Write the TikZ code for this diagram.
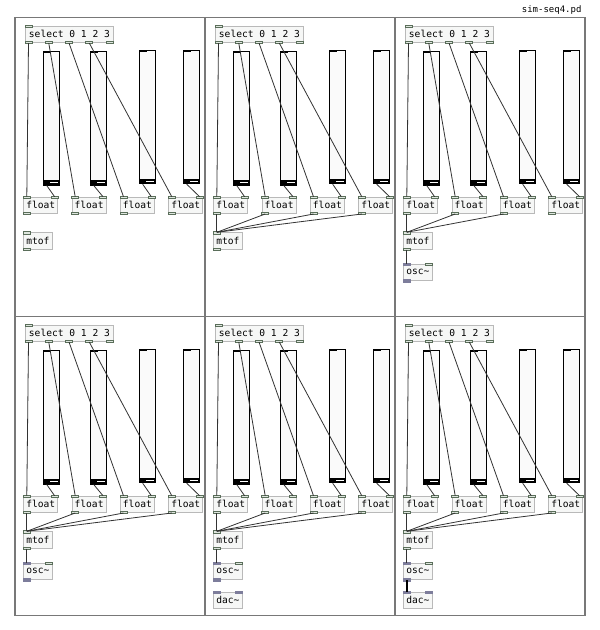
\documentclass[tikz,border=0pt]{standalone}
\usepackage{fontspec}
\setmonofont{DejaVu Sans Mono}
\definecolor{pdborder}{RGB}{185,185,185}
\definecolor{pdfill}{RGB}{246,247,246}
\definecolor{pdlet}{RGB}{90,110,90}
\definecolor{pdletfill}{RGB}{222,230,222}
\definecolor{pdsig}{RGB}{125,125,155}
\definecolor{framegray}{RGB}{120,120,120}
\definecolor{sliderfill}{RGB}{250,250,250}
\newcommand\pdfont{\ttfamily\fontsize{9.6}{10}\selectfont}
% inlets and outlets of a box
\newcommand\pdin[2][ctllet]{\draw[#1] (#2) ++(0,-0.7) rectangle ++(7,2.5);}
\newcommand\pdout[2][ctllet]{\draw[#1] (#2) ++(0,-1.8) rectangle ++(7,2.5);}
\begin{document}
\begin{tikzpicture}[x=1pt, y=-1pt,
    pdbox/.style={draw=pdborder, fill=pdfill, line width=0.8pt, inner sep=0pt,
      anchor=north west, minimum height=16.5pt, font=\pdfont},
    pdslider/.style={draw=black, fill=sliderfill, line width=1.2pt, inner sep=0pt,
      anchor=north west, minimum width=15.7pt, minimum height=133.3pt},
    ctllet/.style={draw=pdlet, fill=pdletfill, line width=0.6pt},
    siglet/.style={draw=pdsig, fill=pdsig, line width=0.4pt},
    pdwire/.style={draw=black!80, line width=0.8pt},
    sigwire/.style={draw=black, line width=2pt},
    pdframe/.style={draw=framegray, line width=1.5pt}]
  \useasboundingbox (0,0) rectangle (600,630);
  \node[anchor=east, font=\ttfamily\fontsize{9}{10}\selectfont] (title) at (585,10) {sim-seq4.pd};
  \foreach \p/\px/\py in {1/15/17.5, 2/205/17.5, 3/395/17.5, 4/15/316.5, 5/205/316.5, 6/395/316.5}{
    \begin{scope}[shift={(\px,\py)}]
      \draw[pdframe] (0,0) rectangle (190,299);
      % select
      \node[pdbox, minimum width=88pt] (sel\p) at (10,8.2) {select 0 1 2 3};
      \pdin{sel\p.north west}
      \foreach \k in {0,...,4}{\pdout{[xshift=\k*20.25pt]sel\p.south west}}
      % sliders
      \foreach \i/\sx/\sy in {1/28/33.5, 2/75/33.5, 3/124/32.2, 4/168/32.2}{
        \node[pdslider] (sl\p-\i) at (\sx,\sy) {};
        \fill (\sx,\sy+129.3) rectangle (\sx+15.7,\sy+133.3);
        \fill[white] (\sx+7,\sy+130.8) rectangle (\sx+14.5,\sy+131.8);
        \fill (\sx,\sy) rectangle (\sx+7.5,\sy+2);
      }
      % floats
      \foreach \i/\fx in {1/8.3, 2/56.7, 3/105, 4/153.3}{
        \node[pdbox, minimum width=34pt] (fl\p-\i) at (\fx,179.2) {float};
        \pdin{fl\p-\i.north west}
        \pdin{[xshift=-7pt]fl\p-\i.north east}
        \pdout{fl\p-\i.south west}
      }
      % mtof
      \node[pdbox, minimum width=28.4pt] (mtof\p) at (8.3,214.8) {mtof};
      \pdin{mtof\p.north west}
      \pdout{mtof\p.south west}
      % wires
      \foreach \i in {1,...,4}{
        \draw[pdwire] ([xshift={(\i-1)*20.25+3.5}]sel\p.south west) -- ([xshift=3.5pt]fl\p-\i.north west);
        \draw[pdwire] ([xshift=3.7pt]sl\p-\i.south west) -- ([xshift=-3.5pt]fl\p-\i.north east);
      }
      \ifnum\p>1
        \ifnum\p=3 \def\flist{1,2,3}\else\def\flist{1,2,3,4}\fi
        \foreach \i in \flist{
          \draw[pdwire] ([xshift=3.5pt]fl\p-\i.south west) -- ([xshift=3.5pt]mtof\p.north west);
        }
      \fi
      \ifnum\p>2
        \node[pdbox, minimum width=28.4pt] (osc\p) at (8.3,246.2) {osc\textasciitilde};
        \pdin[siglet]{osc\p.north west}
        \pdin{[xshift=-7pt]osc\p.north east}
        \pdout[siglet]{osc\p.south west}
        \draw[pdwire] ([xshift=3.5pt]mtof\p.south west) -- ([xshift=3.5pt]osc\p.north west);
      \fi
      \ifnum\p>4
        \node[pdbox, minimum width=28.4pt] (dac\p) at (8.3,275.2) {dac\textasciitilde};
        \pdin[siglet]{dac\p.north west}
        \pdin[siglet]{[xshift=-7pt]dac\p.north east}
      \fi
      \ifnum\p=6
        \draw[sigwire] ([xshift=3.5pt]osc\p.south west) -- ([xshift=3.5pt]dac\p.north west);
      \fi
    \end{scope}
  }
\end{tikzpicture}
\end{document}
